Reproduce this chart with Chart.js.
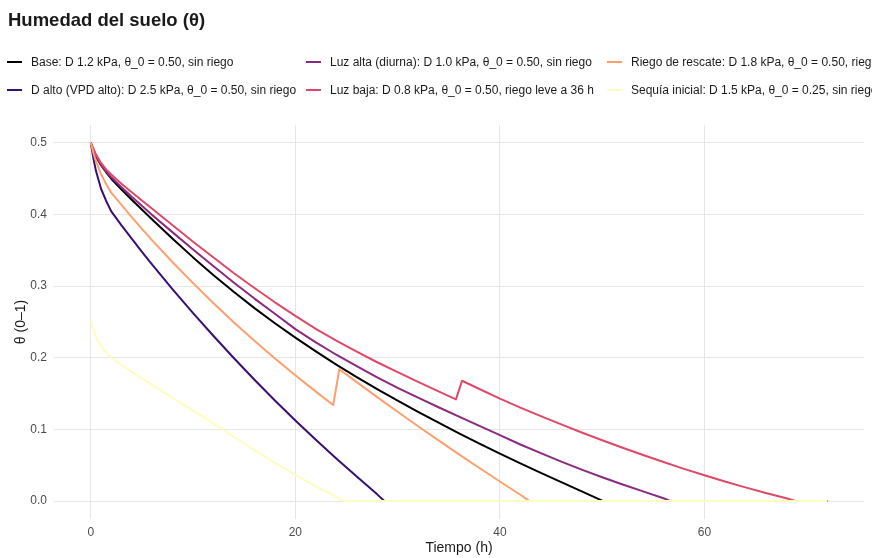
<!DOCTYPE html>
<html>
<head>
<meta charset="utf-8">
<script src="https://cdn.jsdelivr.net/npm/chart.js@4.4.1/dist/chart.umd.min.js"></script>
<style>
  html, body { margin: 0; padding: 0; background: #ffffff; }
  #wrap { position: relative; width: 872px; height: 558px; overflow: hidden; font-family: "Liberation Sans", Arial, sans-serif; }
  #title { position: absolute; left: 8px; top: 9px; font-size: 18.5px; font-weight: bold; color: #1a1a1a; white-space: nowrap; }
  .leg { position: absolute; white-space: nowrap; font-size: 12px; color: #1a1a1a; height: 16px; line-height: 16px; }
  .leg .key { position: absolute; left: 0; top: 7px; width: 15px; height: 2px; }
  .leg .txt { position: absolute; left: 24px; top: 0; }
  canvas { position: absolute; left: 0; top: 0; }
</style>
</head>
<body>
<div id="wrap">
  <canvas id="c" width="872" height="558"></canvas>
  <div id="title">Humedad del suelo (θ)</div>
</div>
<script>
// ---- Data ----
const seriesNames = [
  "Base: D 1.2 kPa, θ_0 = 0.50, sin riego",
  "D alto (VPD alto): D 2.5 kPa, θ_0 = 0.50, sin riego",
  "Luz alta (diurna): D 1.0 kPa, θ_0 = 0.50, sin riego",
  "Luz baja: D 0.8 kPa, θ_0 = 0.50, riego leve a 36 h",
  "Riego de rescate: D 1.8 kPa, θ_0 = 0.50, riego a 24 h",
  "Sequía inicial: D 1.5 kPa, θ_0 = 0.25, sin riego"
];
const seriesColors = ["#000004", "#3B0F70", "#8C2981", "#DE4968", "#FE9F6D", "#FCFDBF"];

const baseT = [0,0.25,0.5,1,1.5,2,3,4,6,8,10,12,14,16,18,20,22,24,26,28,30,32,34,36,38,40,42,44,46,48,50.1,72];
const baseV = [0.5,0.489,0.481,0.469,0.459,0.450,0.435,0.4206,0.393,0.3662,0.3402,0.3154,0.2918,0.2694,0.2482,0.2282,0.209,0.1906,0.173,0.1562,0.1402,0.1246,0.1094,0.0946,0.0802,0.0662,0.0526,0.0394,0.0264,0.0136,0,0];

const dAltoT = [0,0.25,0.5,1,1.5,2,3,4,5,6,8,10,12,14,16,18,20,22,24,26,28,28.7,72];
const dAltoV = [0.5,0.479,0.461,0.436,0.419,0.4045,0.385,0.3665,0.348,0.330,0.2956,0.2624,0.2304,0.1994,0.1694,0.1404,0.1124,0.0856,0.0596,0.0342,0.0094,0,0];

const luzAltaT = [0,0.25,0.5,1,1.5,2,3,4,6,8,10,12,14,16,18,20,22,24,26,28,30,32,34,36,38,40,42,44,46,48,50,52,54,56,56.7,72];
const luzAltaV = [0.5,0.491,0.482,0.469,0.46,0.452,0.4382,0.4249,0.3995,0.3751,0.3511,0.3277,0.3049,0.2827,0.2615,0.240,0.2215,0.2043,0.1883,0.1728,0.158,0.1443,0.131,0.118,0.105,0.092,0.079,0.067,0.055,0.044,0.0333,0.0232,0.0135,0.004,0,0];

const luzBajaT = [0,0.25,0.5,1,1.5,2,3,4,6,8,10,12,14,16,18,20,22,24,26,28,30,32,34,35.7,36.3,38,40,42,44,46,48,50,52,54,56,58,60,62,64,66,68,69,72];
const luzBajaV = [0.5,0.492,0.484,0.472,0.463,0.456,0.443,0.431,0.408,0.385,0.362,0.340,0.318,0.2975,0.2775,0.2585,0.2405,0.224,0.2085,0.1938,0.180,0.1664,0.1532,0.142,0.168,0.1565,0.143,0.1305,0.1185,0.107,0.0958,0.085,0.0745,0.0643,0.0545,0.045,0.036,0.0274,0.0192,0.0114,0.004,0,0];

const rescateT = [0,0.25,0.5,1,1.5,2,3,4,5,6,8,10,12,14,16,18,20,22,23.7,24.3,26,28,30,32,34,36,38,40,42,42.9,72];
const rescateV = [0.5,0.486,0.4745,0.4565,0.4425,0.4305,0.4135,0.3965,0.380,0.364,0.3334,0.3042,0.2762,0.2494,0.2238,0.1992,0.1756,0.1528,0.1341,0.184,0.166,0.1452,0.1247,0.1045,0.0847,0.0653,0.0462,0.0274,0.0089,0,0];

const sequiaT = [0,0.25,0.5,0.75,1,1.5,2,3,4,5,6,8,10,12,14,16,18,20,22,24,24.7,72];
const sequiaV = [0.25,0.2395,0.2305,0.2228,0.2163,0.2075,0.2005,0.190,0.1805,0.1714,0.1622,0.1442,0.1262,0.1084,0.0895,0.0712,0.0535,0.0365,0.0205,0.006,0,0];

const xTicks = [0, 20, 40, 60];
const yTicks = [0, 0.1, 0.2, 0.3, 0.4, 0.5];

// ---- Build ----
const seriesT = [baseT, dAltoT, luzAltaT, luzBajaT, rescateT, sequiaT];
const seriesV = [baseV, dAltoV, luzAltaV, luzBajaV, rescateV, sequiaV];

const datasets = seriesNames.map((name, i) => ({
  label: name,
  data: seriesT[i].map((t, k) => ({ x: t, y: seriesV[i][k] })),
  borderColor: seriesColors[i],
  backgroundColor: seriesColors[i],
  borderWidth: 2,
  pointRadius: 0,
  tension: 0,
  borderJoinStyle: 'round',
  fill: false,
  order: seriesNames.length - i
}));

// HTML legend (ggplot-like, 2 rows x 3 columns, filled by column)
const wrap = document.getElementById('wrap');
const legCols = [7, 306, 607];
const legRows = [54, 82];
seriesNames.forEach((name, i) => {
  const d = document.createElement('div');
  d.className = 'leg';
  d.style.left = legCols[Math.floor(i / 2)] + 'px';
  d.style.top = legRows[i % 2] + 'px';
  const k = document.createElement('span');
  k.className = 'key';
  k.style.background = seriesColors[i];
  const t = document.createElement('span');
  t.className = 'txt';
  t.textContent = name;
  d.appendChild(k); d.appendChild(t);
  wrap.appendChild(d);
});

const gridColor = '#e6e6e6';
new Chart(document.getElementById('c'), {
  type: 'line',
  data: { datasets },
  options: {
    responsive: false,
    animation: false,
    layout: { padding: { top: 125, right: 8, left: 0, bottom: 0 } },
    plugins: { legend: { display: false }, tooltip: { enabled: false } },
    scales: {
      x: {
        type: 'linear',
        min: -3.6, max: 75.6,
        afterBuildTicks: s => { s.ticks = xTicks.map(v => ({ value: v })); },
        afterFit: s => { s.height = 39; },
        grid: { color: gridColor, lineWidth: 1, drawTicks: false },
        border: { display: false },
        ticks: { font: { family: 'Liberation Sans', size: 12 }, color: '#4d4d4d', padding: 6, maxRotation: 0,
                 callback: v => String(v) },
        title: { display: true, text: 'Tiempo (h)', font: { family: 'Liberation Sans', size: 14 }, color: '#1a1a1a',
                 padding: { top: 0, bottom: 1 } }
      },
      y: {
        type: 'linear',
        min: -0.025, max: 0.525,
        afterBuildTicks: s => { s.ticks = yTicks.map(v => ({ value: v })); },
        afterFit: s => { s.width = 54; },
        grid: { color: gridColor, lineWidth: 1, drawTicks: false },
        border: { display: false },
        ticks: { font: { family: 'Liberation Sans', size: 12 }, color: '#4d4d4d', padding: 7,
                 callback: v => Number(v).toFixed(1) },
        title: { display: true, text: 'θ (0–1)', font: { family: 'Liberation Sans', size: 14 }, color: '#1a1a1a',
                 padding: { top: 13, bottom: 0 } }
      }
    }
  }
});
</script>
</body>
</html>
